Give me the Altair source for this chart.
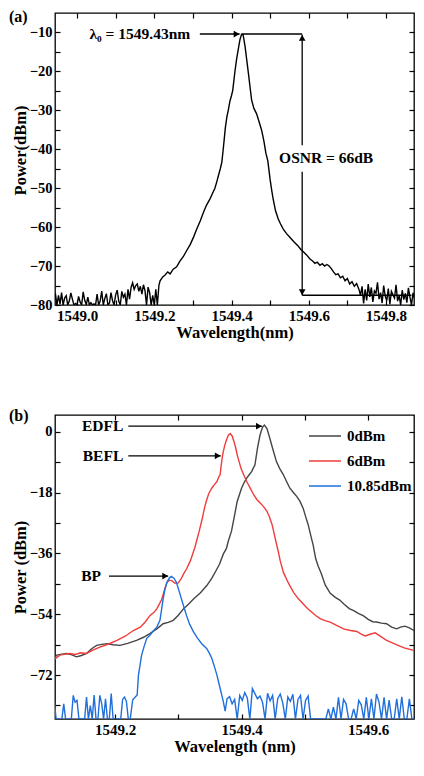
import altair as alt
import pandas as pd

FONT = "Liberation Serif"

# ---------------- Panel (a) : single spectrum ----------------
a_noise_left_start = 1548.940
a_noise_step = 0.004
a_noise_left = [-79.5, -77.0, -80, -77.5, -79.8, -76.8, -80, -78.2, -77.6, -80, -79.0, -76.9, -78.5, -80,
                -79.6, -80, -77.8, -79.2, -80, -76.6, -78.8, -79.9, -78.0, -80, -79.4, -80, -79.7, -80,
                -77.2, -80, -79.0, -76.4, -80, -78.3, -77.1, -80, -79.5, -76.8, -78.9, -80, -77.4, -76.2,
                -79.0, -80, -76.5, -78.0, -77.2, -80, -76.0, -78.5,
                -75.5, -74.3, -76.0, -75.0, -74.6, -76.5, -75.2, -77.2, -74.8, -76.3, -80, -75.4, -76.8,
                -80, -77.5, -80, -76.0, -80, -75.0]
a_main_wl = [1549.215, 1549.222, 1549.228, 1549.235, 1549.241, 1549.249, 1549.258, 1549.266, 1549.275,
             1549.284, 1549.293, 1549.302, 1549.310, 1549.319, 1549.327, 1549.335, 1549.344, 1549.351,
             1549.357, 1549.362, 1549.366, 1549.371, 1549.375, 1549.378, 1549.381, 1549.384, 1549.388,
             1549.392, 1549.396, 1549.400, 1549.403, 1549.406, 1549.409, 1549.413, 1549.418, 1549.422,
             1549.426, 1549.430, 1549.435, 1549.440, 1549.444, 1549.448, 1549.452, 1549.458, 1549.465,
             1549.471, 1549.478, 1549.484, 1549.489, 1549.494, 1549.500, 1549.504, 1549.508, 1549.514,
             1549.521, 1549.527, 1549.534, 1549.542, 1549.551, 1549.562, 1549.573, 1549.580, 1549.586,
             1549.595, 1549.603, 1549.610, 1549.616, 1549.622, 1549.629, 1549.635, 1549.641, 1549.647,
             1549.652, 1549.658, 1549.664, 1549.670, 1549.676, 1549.682, 1549.688, 1549.694, 1549.700,
             1549.706, 1549.712, 1549.718, 1549.724, 1549.730]
a_main_pw = [-73.8, -72.8, -72.3, -71.5, -72.0, -70.8, -70.2, -68.8, -67.6,
             -66.0, -64.5, -62.5, -60.5, -58.4, -56.3, -54.4, -52.8, -51.3,
             -50.0, -48.3, -46.8, -45.0, -43.3, -40.5, -37.6, -34.5, -31.7,
             -29.8, -27.6, -26.2, -25.0, -22.5, -19.9, -17.0, -14.0, -11.8,
             -10.5, -10.6, -13.5, -17.5, -20.7, -24.0, -27.3, -29.5, -30.9,
             -32.8, -35.1, -38.0, -41.0, -43.0, -47.8, -50.5, -52.9, -55.8,
             -57.9, -59.2, -60.5, -61.6, -62.6, -63.8, -64.9, -65.8, -66.3,
             -67.2, -68.2, -68.7, -69.3, -69.0, -69.8, -69.4, -70.0, -69.6,
             -69.9, -70.6, -71.5, -72.2, -72.0, -73.0, -72.6, -73.8, -73.2,
             -74.6, -74.0, -75.2, -74.5, -76.0]
a_noise_right_start = 1549.734
a_noise_right = [-77.5, -75.2, -79.6, -76.0, -78.8, -74.6, -77.9, -75.5, -79.2, -76.4, -77.0, -74.2, -78.5,
                 -76.8, -79.5, -75.0, -77.7, -78.9, -75.8, -79.8, -76.5, -77.4, -78.2, -74.8, -79.0, -77.6,
                 -80, -76.2, -78.6, -77.0, -79.4, -75.6, -78.0, -80, -76.9, -78.4, -79.7, -77.2, -80, -78.0,
                 -79.0]

a_x_domain = [1548.9430, 1549.8725]
a_y_domain = [-80, -5]
a_x_ticks = [1549.0, 1549.1, 1549.2, 1549.3, 1549.4, 1549.5, 1549.6, 1549.7, 1549.8]
a_y_ticks = [-80, -75, -70, -65, -60, -55, -50, -45, -40, -35, -30, -25, -20, -15, -10]

# annotations (a)
a_peak_wl = 1549.426
a_peak_pw = -10.4
a_osnr_wl = 1549.583
a_floor_pw = -77.5
a_floor_end = 1549.866
a_lambda_text = "λ₀ = 1549.43nm"
a_lambda_text_wl = 1549.293
a_lambda_arrow = [1549.318, 1549.421]
a_osnr_text = "OSNR = 66dB"
a_osnr_text_pos = [1549.645, -42.2]
a_osnr_up = [-39.0, -10.6]
a_osnr_down = [-45.8, -77.5]

# ---------------- Panel (b) : three spectra ----------------
b_series = ["0dBm", "6dBm", "10.85dBm"]
b_colors = ["#454545", "#f03c3c", "#1f6fdc"]

b0_wl = [1549.104, 1549.108, 1549.116, 1549.124, 1549.132, 1549.139, 1549.147, 1549.155, 1549.163,
         1549.171, 1549.179, 1549.187, 1549.197, 1549.208, 1549.220, 1549.234, 1549.245, 1549.255,
         1549.266, 1549.276, 1549.284, 1549.292, 1549.300, 1549.308, 1549.316, 1549.324, 1549.335,
         1549.345, 1549.353, 1549.361, 1549.365, 1549.371, 1549.376, 1549.379, 1549.384, 1549.388,
         1549.393, 1549.397, 1549.400, 1549.404, 1549.408, 1549.412, 1549.416, 1549.419, 1549.421,
         1549.425, 1549.429, 1549.433, 1549.436, 1549.440, 1549.444, 1549.449, 1549.455, 1549.460,
         1549.466, 1549.471, 1549.476, 1549.482, 1549.487, 1549.492, 1549.497, 1549.501, 1549.505,
         1549.509, 1549.513, 1549.517, 1549.521, 1549.526, 1549.532, 1549.540, 1549.548, 1549.555,
         1549.562, 1549.570, 1549.577, 1549.585, 1549.592, 1549.600, 1549.607, 1549.613, 1549.621,
         1549.629, 1549.637, 1549.645, 1549.651, 1549.658, 1549.665, 1549.672, 1549.680, 1549.686]
b0_pw = [-67.0, -66.1, -65.8, -65.6, -66.0, -66.6, -66.2, -65.6, -64.2,
         -63.2, -62.9, -62.7, -63.0, -63.2, -62.6, -61.7, -60.8, -59.7,
         -58.3, -56.8, -56.4, -55.8, -54.3, -52.4, -51.0, -49.5, -47.6,
         -45.5, -43.3, -40.6, -39.2, -36.2, -34.5, -32.3, -29.4, -25.5,
         -20.6, -18.3, -16.6, -15.0, -13.7, -12.7, -11.7, -10.5, -9.8,
         -4.9, -1.0, 1.4, 2.0, 1.0, -1.5, -4.9, -8.8, -10.8,
         -12.7, -14.7, -16.6, -18.0, -19.1, -20.5, -22.5, -25.0, -27.4,
         -30.5, -33.5, -37.5, -39.8, -42.0, -45.3, -47.8, -49.0, -49.8,
         -51.0, -52.3, -52.9, -53.8, -54.4, -55.5, -56.2, -56.3, -56.6,
         -56.8, -57.8, -58.3, -57.8, -57.5, -58.0, -58.8, -59.6, -59.9]

b6_wl = [1549.104, 1549.113, 1549.121, 1549.129, 1549.137, 1549.146, 1549.155, 1549.165, 1549.176,
         1549.190, 1549.203, 1549.216, 1549.229, 1549.240, 1549.248, 1549.255, 1549.262, 1549.266,
         1549.270, 1549.274, 1549.278, 1549.282, 1549.286, 1549.290, 1549.295, 1549.300, 1549.305,
         1549.309, 1549.313, 1549.319, 1549.326, 1549.330, 1549.333, 1549.338, 1549.341, 1549.344,
         1549.348, 1549.353, 1549.357, 1549.361, 1549.364, 1549.366, 1549.368, 1549.370, 1549.373,
         1549.376, 1549.379, 1549.382, 1549.385, 1549.388, 1549.391, 1549.393, 1549.396, 1549.399,
         1549.404, 1549.408, 1549.414, 1549.419, 1549.424, 1549.429, 1549.435, 1549.440, 1549.444,
         1549.448, 1549.451, 1549.454, 1549.458, 1549.461, 1549.466, 1549.474, 1549.482, 1549.490,
         1549.497, 1549.504, 1549.511, 1549.518, 1549.524, 1549.532, 1549.540, 1549.550, 1549.561,
         1549.572, 1549.582, 1549.589, 1549.595, 1549.603, 1549.611, 1549.620, 1549.629, 1549.640,
         1549.650, 1549.658, 1549.666, 1549.676, 1549.686]
b6_pw = [-67.4, -66.1, -65.8, -65.6, -65.9, -65.4, -65.6, -64.6, -63.7,
         -62.8, -61.7, -60.5, -58.8, -57.8, -56.2, -54.4, -53.3, -52.4,
         -51.0, -49.5, -46.8, -44.6, -43.9, -44.1, -44.8, -44.7, -43.3,
         -41.8, -40.6, -38.2, -34.3, -31.5, -29.4, -25.5, -22.8, -20.6,
         -18.3, -16.6, -15.6, -14.7, -13.3, -12.7, -9.5, -6.8, -4.2,
         -2.4, -1.0, -0.5, -1.2, -2.9, -5.0, -6.8, -8.8, -10.8,
         -13.0, -14.7, -16.8, -18.6, -20.0, -21.0, -22.2, -23.5, -25.2,
         -27.4, -29.8, -32.3, -35.5, -38.2, -41.6, -44.8, -47.5, -49.5,
         -50.9, -52.3, -53.4, -54.5, -55.3, -55.9, -56.3, -57.3, -58.3,
         -58.8, -59.1, -59.9, -60.4, -59.9, -59.5, -60.6, -61.7, -62.6,
         -63.4, -64.0, -64.4, -64.9, -65.3]

b10_noise_left_start = 1549.104
b10_noise_left_step = 0.003
b10_noise_left = [-79.5, -85, -85, -85, -85, -80.5, -85, -85, -85, -85, -78.0, -80.0, -79.5, -85,
                  -85, -85, -85, -78.5, -85, -81.0, -85, -77.9, -85, -85, -78.0, -80.5, -85, -79.0,
                  -85, -85, -77.5, -85, -85, -85, -85, -85, -79.2, -78.5, -79.8, -85, -85]
b10_main_wl = [1549.228, 1549.232, 1549.235, 1549.237, 1549.240, 1549.242, 1549.246, 1549.250, 1549.256,
               1549.261, 1549.266, 1549.271, 1549.274, 1549.276, 1549.279, 1549.282, 1549.286, 1549.289,
               1549.293, 1549.297, 1549.301, 1549.305, 1549.309, 1549.313, 1549.318, 1549.324, 1549.330,
               1549.337, 1549.345, 1549.349, 1549.353, 1549.357, 1549.361, 1549.366, 1549.371, 1549.374]
b10_main_pw = [-79.3, -78.5, -77.9, -72.0, -68.5, -66.1, -63.5, -61.2, -60.0,
               -58.8, -57.8, -55.8, -52.0, -49.5, -46.5, -44.5, -43.2, -42.8,
               -43.3, -44.5, -47.0, -49.5, -52.0, -54.4, -57.0, -59.2, -61.0,
               -62.7, -64.2, -65.5, -67.1, -69.5, -72.0, -75.9, -79.8, -82.7]
b10_noise_right_start = 1549.377
b10_noise_right_step = 0.004
b10_noise_right = [-79.0, -78.4, -80.5, -79.2, -85, -78.0, -79.5, -77.2, -78.8, -85, -76.0, -77.5, -79.0,
                   -78.2, -80.0, -85, -77.4, -79.6, -78.0, -85, -79.0, -77.6, -80.2, -85, -78.5, -79.8,
                   -77.7, -85, -79.2, -78.0, -85, -79.5, -78.2, -85,
                   -85, -85, -85, -85, -85,
                   -85, -82.0, -85, -81.5, -85, -78.6, -85, -79.2, -80.5, -85, -85, -82.0, -85, -79.5,
                   -80.8, -85, -78.6, -85, -79.0, -85, -77.6, -80.0, -85, -78.6, -85, -79.4, -85, -85,
                   -79.0, -85, -78.4, -85, -85, -79.0,
                   -85, -85, -85, -85, -85]

b_x_domain = [1549.1052, 1549.6723]
b_y_domain = [-85, 5]
b_x_ticks = [1549.2, 1549.3, 1549.4, 1549.5, 1549.6]
b_y_ticks = [-81, -72, -63, -54, -45, -36, -27, -18, -9, 0]

# annotations (b)
b_labels = ["EDFL", "BEFL", "BP"]
b_label_wl = [1549.213, 1549.213, 1549.178]
b_label_pw = [1.7, -7.1, -42.7]
b_arrow_start = [1549.221, 1549.221, 1549.1905]
b_arrow_end = [1549.432, 1549.367, 1549.284]

# ---------------- build tables ----------------
a_wl = ([round(a_noise_left_start + i * a_noise_step, 4) for i in range(len(a_noise_left))]
        + a_main_wl
        + [round(a_noise_right_start + i * a_noise_step, 4) for i in range(len(a_noise_right))])
a_pw = a_noise_left + a_main_pw + a_noise_right
df_a = pd.DataFrame({"wl": a_wl, "pw": a_pw})

b10_wl = ([round(b10_noise_left_start + i * b10_noise_left_step, 4) for i in range(len(b10_noise_left))]
          + b10_main_wl
          + [round(b10_noise_right_start + i * b10_noise_right_step, 4) for i in range(len(b10_noise_right))])
b10_pw = b10_noise_left + b10_main_pw + b10_noise_right
df_b = pd.concat([
    pd.DataFrame({"wl": b0_wl, "pw": b0_pw, "s": b_series[0], "o": 0}),
    pd.DataFrame({"wl": b6_wl, "pw": b6_pw, "s": b_series[1], "o": 1}),
    pd.DataFrame({"wl": b10_wl, "pw": b10_pw, "s": b_series[2], "o": 2}),
], ignore_index=True)

# ---------------- styling helpers ----------------
TTL = dict(titleFont=FONT, titleFontWeight="bold", titleFontSize=16.5, titleColor="black")
TICK = dict(offset=-5, tickSize=5, tickWidth=1.2, tickColor="black", domain=False, grid=False,
            minExtent=0)
LBLX = dict(labelFont=FONT, labelFontWeight="bold", labelFontSize=15, labelColor="black",
            labelOverlap=False, labelFlush=False)
LBLY = dict(labelFont=FONT, labelFontWeight="bold", labelFontSize=14.5, labelColor="black",
            labelOverlap=False, labelFlush=False)


def xbottom(values, title, dom):
    return alt.X("wl:Q", scale=alt.Scale(domain=dom, nice=False, zero=False),
                 axis=alt.Axis(orient="bottom", values=values, format=".1f",
                               labelExpr="round(datum.value*10) % 2 == 0 ? datum.label : ''",
                               labelPadding=3, title=title, titlePadding=1, **LBLX, **TTL, **TICK))


def yleft(values, title, dom, expr, title_y=None):
    extra = {} if title_y is None else {"titleY": title_y}
    return alt.Y("pw:Q", scale=alt.Scale(domain=dom, nice=False, zero=False),
                 axis=alt.Axis(orient="left", values=values, labelExpr=expr, labelPadding=3,
                               title=title, titleX=-40, titleBaseline="middle", **extra,
                               **LBLY, **TTL, **TICK))


def xtop(values):
    return alt.X("wl:Q", axis=alt.Axis(orient="top", values=values, labels=False, title=None,
                                       maxExtent=0, **TICK))


def yright(values):
    return alt.Y("pw:Q", axis=alt.Axis(orient="right", values=values, labels=False, title=None,
                                       maxExtent=0, **TICK))


XN = alt.X("wl:Q", axis=None)
YN = alt.Y("pw:Q", axis=None)
TXT = dict(font=FONT, fontWeight="bold", fontSize=15.5, color="black")

# ---------------- panel (a) ----------------
line_a = alt.Chart(df_a).mark_line(color="black", strokeWidth=1.4, clip=True).encode(
    x=xbottom(a_x_ticks, "Wavelength(nm)", a_x_domain),
    y=yleft(a_y_ticks, "Power(dBm)", a_y_domain, "datum.value % 10 == 0 ? datum.label : ''", 137),
    order="wl:Q",
)

seg_a = pd.DataFrame({
    "wl": [a_lambda_arrow[0], a_peak_wl, a_osnr_wl, a_osnr_wl, a_osnr_wl],
    "wl2": [a_lambda_arrow[1], a_osnr_wl, a_osnr_wl, a_osnr_wl, a_floor_end],
    "pw": [a_peak_pw, a_peak_pw, a_osnr_up[0], a_osnr_down[0], a_floor_pw],
    "pw2": [a_peak_pw, a_peak_pw, a_osnr_up[1], a_osnr_down[1], a_floor_pw],
})
rules_a = alt.Chart(seg_a).mark_rule(color="black", strokeWidth=1.3).encode(
    x=xtop(a_x_ticks), x2="wl2:Q", y=yright(a_y_ticks), y2="pw2:Q")

head_r_a = alt.Chart(pd.DataFrame({"wl": [a_lambda_arrow[1]], "pw": [a_peak_pw]})).mark_point(
    shape="triangle-right", filled=True, color="black", size=45, xOffset=-3, opacity=1).encode(x=XN, y=YN)
head_u_a = alt.Chart(pd.DataFrame({"wl": [a_osnr_wl], "pw": [a_osnr_up[1]]})).mark_point(
    shape="triangle-up", filled=True, color="black", size=45, yOffset=3, opacity=1).encode(x=XN, y=YN)
head_d_a = alt.Chart(pd.DataFrame({"wl": [a_osnr_wl], "pw": [a_osnr_down[1]]})).mark_point(
    shape="triangle-down", filled=True, color="black", size=45, yOffset=-3, opacity=1).encode(x=XN, y=YN)

txt_a1 = alt.Chart(pd.DataFrame({"wl": [a_lambda_text_wl], "pw": [a_peak_pw], "t": [a_lambda_text]})).mark_text(
    align="right", baseline="middle", **TXT).encode(x=XN, y=YN, text="t:N")
txt_a2 = alt.Chart(pd.DataFrame({"wl": [a_osnr_text_pos[0]], "pw": [a_osnr_text_pos[1]], "t": [a_osnr_text]})).mark_text(
    align="center", baseline="middle", **TXT).encode(x=XN, y=YN, text="t:N")
tag_a = alt.Chart(pd.DataFrame({"t": ["(a)"]})).mark_text(
    align="left", baseline="top", font=FONT, fontWeight="bold", fontSize=16, color="black").encode(
    x=alt.value(-46), y=alt.value(-4), text="t:N")

panel_a = alt.layer(line_a, rules_a, head_r_a, head_u_a, head_d_a, txt_a1, txt_a2, tag_a).resolve_axis(
    x="independent", y="independent").properties(width=359, height=292)

# ---------------- panel (b) ----------------
line_b = alt.Chart(df_b).mark_line(strokeWidth=1.4, clip=True).encode(
    x=xbottom(b_x_ticks, "Wavelength (nm)", b_x_domain),
    y=yleft(b_y_ticks, "Power (dBm)", b_y_domain, "datum.value % 18 == 0 ? datum.label : ''"),
    color=alt.Color("s:N", scale=alt.Scale(domain=b_series, range=b_colors),
                    legend=alt.Legend(orient="none", legendX=253, legendY=4, title=None,
                                      symbolType="stroke", symbolSize=1024, symbolStrokeWidth=1.5,
                                      labelFont=FONT, labelFontWeight="bold", labelFontSize=15,
                                      labelColor="black", labelOffset=5, rowPadding=-22, padding=0)),
    detail="o:N",
    order="wl:Q",
)

ann_b = pd.DataFrame({"t": b_labels, "lwl": b_label_wl, "pw": b_label_pw,
                      "wl": b_arrow_start, "wl2": b_arrow_end})
rules_b = alt.Chart(ann_b).mark_rule(color="black", strokeWidth=1.3).encode(
    x=xtop(b_x_ticks), x2="wl2:Q", y=yright(b_y_ticks))
heads_b = alt.Chart(ann_b).mark_point(
    shape="triangle-right", filled=True, color="black", size=45, xOffset=-3, opacity=1).encode(
    x=alt.X("wl2:Q", axis=None), y=YN)
txt_b = alt.Chart(ann_b).mark_text(align="right", baseline="middle", **TXT).encode(
    x=alt.X("lwl:Q", axis=None), y=YN, text="t:N")
tag_b = alt.Chart(pd.DataFrame({"t": ["(b)"]})).mark_text(
    align="left", baseline="top", font=FONT, fontWeight="bold", fontSize=16, color="black").encode(
    x=alt.value(-46), y=alt.value(-7), text="t:N")

panel_b = alt.layer(line_b, rules_b, heads_b, txt_b, tag_b).resolve_axis(
    x="independent", y="independent").properties(width=359, height=304)

chart = alt.vconcat(panel_a, panel_b, spacing=65).resolve_legend(color="independent").configure_view(
    stroke="black", strokeWidth=1.3).properties(
    padding={"left": 0, "top": 0, "right": 0, "bottom": 0}, background="white")

chart.save("out.html", embed_options={"renderer": "svg", "actions": False})
